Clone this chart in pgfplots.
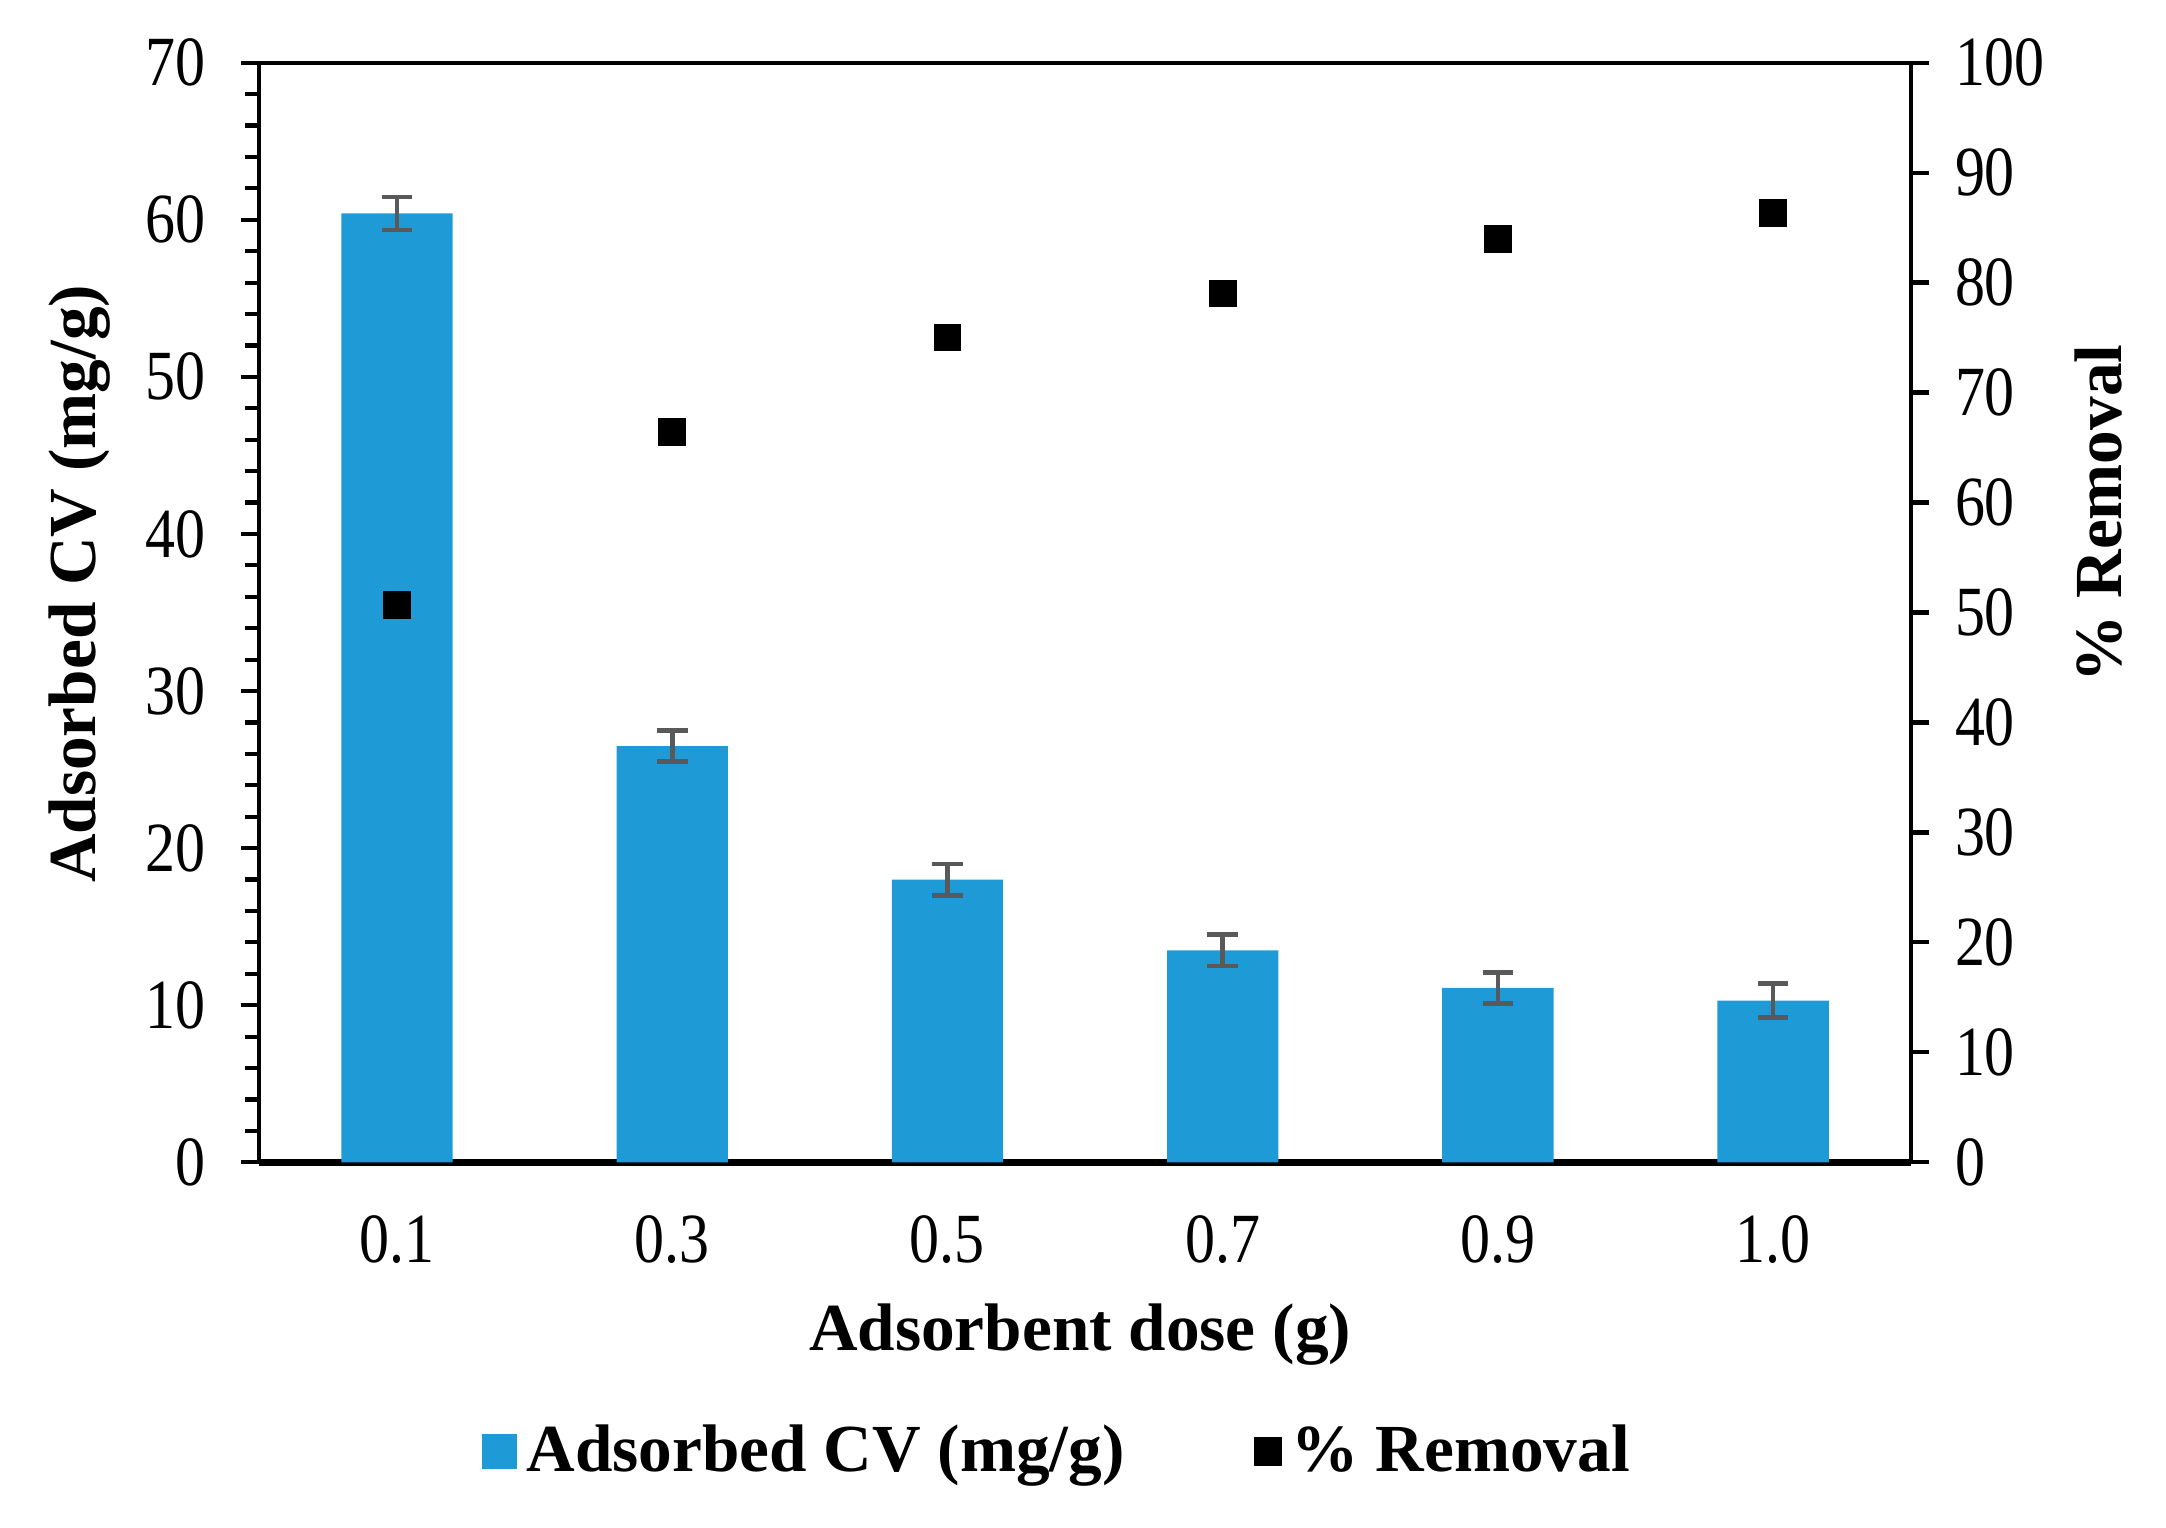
\documentclass[border=0pt]{standalone}
\usepackage{fontspec}
\setmainfont{Liberation Serif}
\newfontfamily\tickfont[FakeStretch=0.85]{Liberation Serif}
\usepackage{pgfplots}
\pgfplotsset{compat=1.18}
\definecolor{barblue}{RGB}{30,155,215}
\definecolor{errgray}{RGB}{89,89,89}

\begin{document}
\begin{tikzpicture}
\useasboundingbox (-55.9pt,-78.6pt) rectangle (410.9pt,250.5pt);
\pgfplotsset{
  base/.style={
    width=355.9pt, height=237pt, scale only axis,
    xmin=-0.5, xmax=5.5,
    /pgf/number format/assume math mode=true,
    tick label style={font=\tickfont\fontsize{15.2}{17}\selectfont},
    label style={font=\fontsize{14.5}{17}\selectfont\bfseries},
    tick align=outside,
    major tick length=4pt, minor tick length=3pt,
  }
}
% left axis: adsorbed amount (bars)
\begin{axis}[base,
  axis x line*=bottom, axis y line*=left,
  x axis line style={line width=1.5pt, -},
  y axis line style={line width=0.9pt, -},
  ymin=0, ymax=70, ytick={0,10,...,70},
  minor y tick num=4,
  xtick={0,...,5}, xticklabels={0.1,0.3,0.5,0.7,0.9,1.0},
  xtick style={draw=none},
  xticklabel style={yshift=-4pt},
  ytick style={line width=0.9pt, black},
  yticklabel style={xshift=-4pt},
  xlabel={Adsorbent dose (g)},
  x label style={at={(axis description cs:0.497,-0.157)}, anchor=center},
  ylabel={Adsorbed CV (mg/g)},
  y label style={at={(axis description cs:-0.109,0.526)}, anchor=center},
]
\addplot[ybar, bar width=24pt, fill=barblue, draw=none,
  error bars/.cd, y dir=both, y explicit,
  error bar style={line width=1pt, errgray},
  error mark options={errgray, line width=1pt, mark size=3.3pt, rotate=90}]
coordinates {
  (0,60.4) +- (0,1.05)
  (1,26.5) +- (0,1.0)
  (2,18.0) +- (0,1.0)
  (3,13.5) +- (0,1.0)
  (4,11.1) +- (0,1.0)
  (5,10.3) +- (0,1.1)
};
\end{axis}
% right axis: % removal (markers)
\begin{axis}[base,
  axis y line*=right, axis x line*=top,
  x axis line style={line width=0.9pt, -},
  y axis line style={line width=0.9pt, -},
  xtick=\empty,
  ymin=0, ymax=100, ytick={0,10,...,100},
  ytick style={line width=0.9pt, black},
  yticklabel style={xshift=2pt},
  ylabel={\% Removal},
  y label style={at={(axis description cs:1.114,0.59)}, anchor=center, rotate=0},
  legend columns=2,
  legend style={at={(axis description cs:0.485,-0.263)}, anchor=center,
    draw=none, font=\fontsize{14.5}{17}\selectfont\bfseries,
    /tikz/every even column/.append style={column sep=26pt}},
]
\addlegendimage{legend image code/.code={\fill[barblue] (-1.5pt,-3.65pt) rectangle (5.8pt,3.65pt);}}
\addlegendentry{Adsorbed CV (mg/g)}
\addplot[only marks, mark=square*, mark size=2.8pt, black,
  legend image code/.code={\fill[black] (0pt,-3pt) rectangle (5.6pt,3pt);}]
coordinates {
  (0,50.7) (1,66.4) (2,75.0) (3,79.0) (4,84.0) (5,86.3)
};
\addlegendentry{\% Removal}
\end{axis}
\end{tikzpicture}
\end{document}
